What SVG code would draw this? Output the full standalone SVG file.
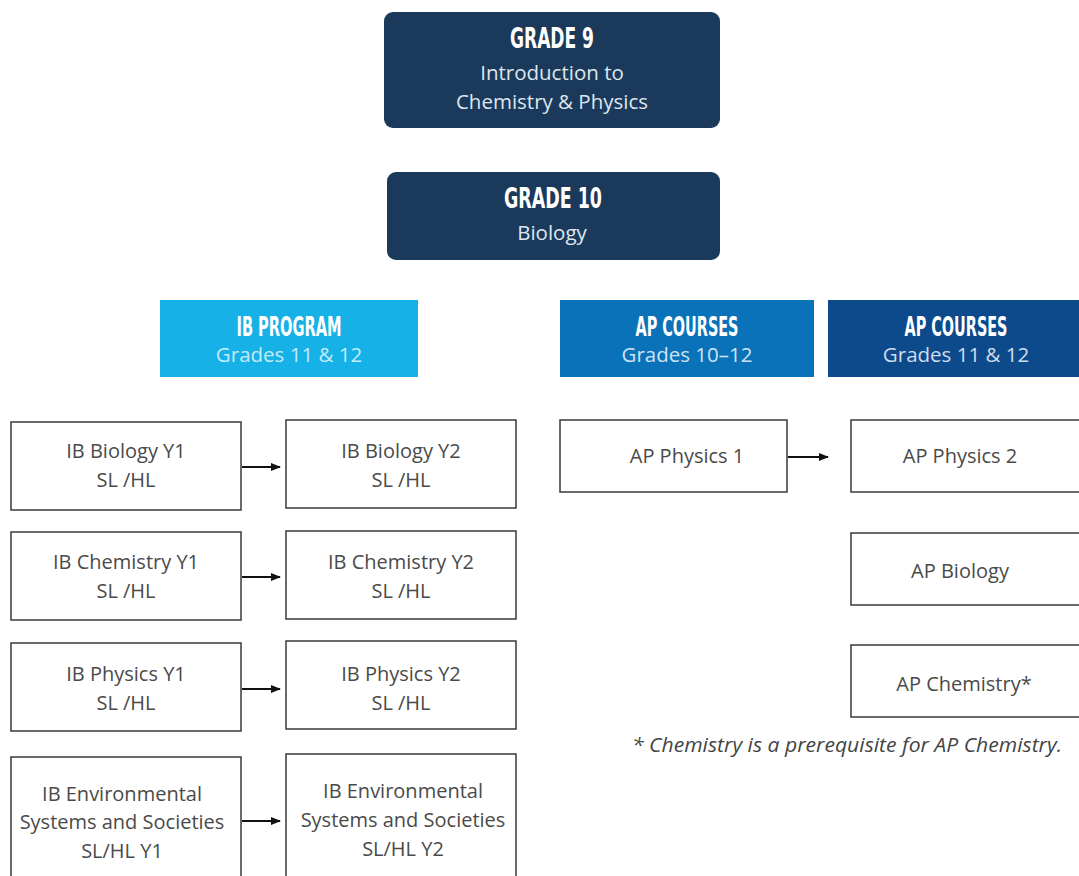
<svg xmlns="http://www.w3.org/2000/svg" width="1079" height="876" viewBox="0 0 1079 876">
<defs>
<style>
.grade{fill:#1b3a5b}
.hd{font-family:"Liberation Sans Narrow","DejaVu Sans Condensed",sans-serif;font-weight:bold;fill:#ffffff;text-anchor:middle}
.sub{font-family:"Open Sans","Liberation Sans",sans-serif;font-size:20.5px;fill:#dfe6ee;text-anchor:middle}
.box{fill:#ffffff;stroke:#3a3a3a;stroke-width:1.5}
.t{font-family:"Open Sans","Liberation Sans",sans-serif;font-size:20px;fill:#4a4a4a;text-anchor:middle}
.conn{stroke:#111111;stroke-width:2;fill:none}
</style>
<marker id="arr" markerWidth="10" markerHeight="10" refX="9" refY="5" orient="auto" markerUnits="userSpaceOnUse">
<path d="M0,1 L10,5 L0,9 z" fill="#111111"/>
</marker>
</defs>
<rect width="1079" height="876" fill="#ffffff"/>

<g id="grade9">
<rect class="grade" x="384" y="12" width="336" height="116" rx="9"/>
<text class="hd" x="552" y="48" font-size="29" textLength="84" lengthAdjust="spacingAndGlyphs">GRADE 9</text>
<text class="sub" x="552" y="80">Introduction to</text>
<text class="sub" x="552" y="109">Chemistry &amp; Physics</text>
</g>

<g id="grade10">
<rect class="grade" x="387" y="172" width="333" height="88" rx="9"/>
<text class="hd" x="553" y="208" font-size="29" textLength="98" lengthAdjust="spacingAndGlyphs">GRADE 10</text>
<text class="sub" x="552" y="240">Biology</text>
</g>

<g id="ib-header">
<rect x="160" y="300" width="258" height="77" fill="#16b1e7"/>
<text class="hd" x="289" y="336" font-size="26" textLength="105" lengthAdjust="spacingAndGlyphs">IB PROGRAM</text>
<text class="sub" x="289" y="362" style="fill:#c4ebfa">Grades 11 &amp; 12</text>
</g>

<g id="ap-header-1">
<rect x="560" y="300" width="254" height="77" fill="#0a72b9"/>
<text class="hd" x="687" y="336" font-size="26" textLength="103" lengthAdjust="spacingAndGlyphs">AP COURSES</text>
<text class="sub" x="687" y="362" style="fill:#cfe3f3">Grades 10–12</text>
</g>

<g id="ap-header-2">
<rect x="828" y="300" width="251" height="77" fill="#0d4a8b"/>
<text class="hd" x="956" y="336" font-size="26" textLength="103" lengthAdjust="spacingAndGlyphs">AP COURSES</text>
<text class="sub" x="956" y="362" style="fill:#cfdcec">Grades 11 &amp; 12</text>
</g>

<g id="ib-bio-y1">
<rect class="box" x="11" y="422" width="230" height="88"/>
<text class="t" x="126" y="458">IB Biology Y1</text>
<text class="t" x="126" y="487">SL /HL</text>
</g>
<g id="ib-bio-y2">
<rect class="box" x="286" y="420" width="230" height="88"/>
<text class="t" x="401" y="458">IB Biology Y2</text>
<text class="t" x="401" y="487">SL /HL</text>
</g>

<g id="ib-chem-y1">
<rect class="box" x="11" y="532" width="230" height="88"/>
<text class="t" x="126" y="569">IB Chemistry Y1</text>
<text class="t" x="126" y="598">SL /HL</text>
</g>
<g id="ib-chem-y2">
<rect class="box" x="286" y="531" width="230" height="88"/>
<text class="t" x="401" y="569">IB Chemistry Y2</text>
<text class="t" x="401" y="598">SL /HL</text>
</g>

<g id="ib-phys-y1">
<rect class="box" x="11" y="643" width="230" height="88"/>
<text class="t" x="126" y="681">IB Physics Y1</text>
<text class="t" x="126" y="710">SL /HL</text>
</g>
<g id="ib-phys-y2">
<rect class="box" x="286" y="641" width="230" height="88"/>
<text class="t" x="401" y="681">IB Physics Y2</text>
<text class="t" x="401" y="710">SL /HL</text>
</g>

<g id="ib-ess-y1">
<rect class="box" x="11" y="757" width="230" height="125"/>
<text class="t" x="122" y="801">IB Environmental</text>
<text class="t" x="122" y="829">Systems and Societies</text>
<text class="t" x="122" y="858">SL/HL Y1</text>
</g>
<g id="ib-ess-y2">
<rect class="box" x="286" y="754" width="230" height="128"/>
<text class="t" x="403" y="798">IB Environmental</text>
<text class="t" x="403" y="827">Systems and Societies</text>
<text class="t" x="403" y="856">SL/HL Y2</text>
</g>

<g id="ap-phys-1">
<rect class="box" x="560" y="420" width="227" height="72"/>
<text class="t" x="687" y="463">AP Physics 1</text>
</g>
<g id="ap-phys-2">
<rect class="box" x="851" y="420" width="235" height="72"/>
<text class="t" x="960" y="463">AP Physics 2</text>
</g>
<g id="ap-bio">
<rect class="box" x="851" y="533" width="235" height="72"/>
<text class="t" x="960" y="578">AP Biology</text>
</g>
<g id="ap-chem">
<rect class="box" x="851" y="645" width="235" height="72"/>
<text class="t" x="964" y="691">AP Chemistry*</text>
</g>

<g id="footnote">
<text x="632" y="752" font-family="'Open Sans','Liberation Sans',sans-serif" font-style="italic" font-size="20" fill="#444444" textLength="430" lengthAdjust="spacingAndGlyphs">* Chemistry is a prerequisite for AP Chemistry.</text>
</g>

<g id="connectors">
<line class="conn" x1="242" y1="467" x2="280" y2="467" marker-end="url(#arr)"/>
<line class="conn" x1="242" y1="577" x2="280" y2="577" marker-end="url(#arr)"/>
<line class="conn" x1="242" y1="689" x2="280" y2="689" marker-end="url(#arr)"/>
<line class="conn" x1="242" y1="821" x2="280" y2="821" marker-end="url(#arr)"/>
<line class="conn" x1="788" y1="457" x2="828" y2="457" marker-end="url(#arr)"/>
</g>
</svg>
